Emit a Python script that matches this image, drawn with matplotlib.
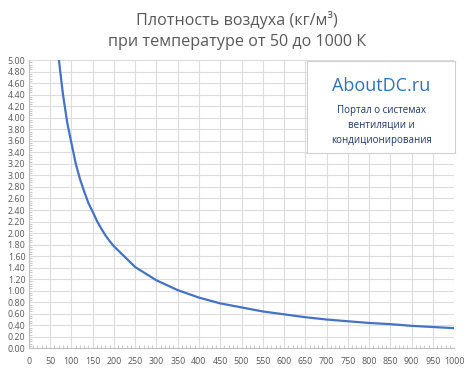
import matplotlib
matplotlib.use('Agg')
import matplotlib.pyplot as plt
from matplotlib.ticker import MultipleLocator, FormatStrFormatter

plt.rcParams['font.family'] = ['Open Sans', 'DejaVu Sans']

# Температура, К и плотность воздуха, кг/м3
temps = [50, 60, 70, 80, 90, 100, 110, 120, 130, 140, 150, 160, 170, 180, 190, 200,
         250, 300, 350, 400, 450, 500, 550, 600, 650, 700, 750, 800, 850, 900, 950, 1000]
density = [7.06, 5.88, 5.04, 4.41, 3.92, 3.56, 3.21, 2.94, 2.72, 2.52, 2.37, 2.21, 2.08,
           1.96, 1.86, 1.77, 1.41, 1.18, 1.01, 0.88, 0.78, 0.71, 0.64, 0.59, 0.54, 0.50,
           0.47, 0.44, 0.42, 0.39, 0.37, 0.35]

title = 'Плотность воздуха (кг/м³)\nпри температуре от 50 до 1000 К'
site = 'AboutDC.ru'
site_note = 'Портал о системах\nвентиляции и\nкондиционирования'

fig = plt.figure(figsize=(4.74, 3.69), dpi=100)
ax = fig.add_axes([0.061, 0.056, 0.897, 0.781])

ax.plot(temps, density, color='#4472C4', lw=1.6, clip_on=True)

ax.set_xlim(0, 1000)
ax.set_ylim(0, 5)
ax.xaxis.set_major_locator(MultipleLocator(50))
ax.xaxis.set_minor_locator(MultipleLocator(10))
ax.yaxis.set_major_locator(MultipleLocator(0.2))
ax.yaxis.set_minor_locator(MultipleLocator(0.04))
ax.yaxis.set_major_formatter(FormatStrFormatter('%.2f'))

ax.grid(True, which='major', color='#DCDCDC', lw=0.8)
ax.set_axisbelow(True)
for s in ['top', 'right']:
    ax.spines[s].set_visible(False)
for s in ['left', 'bottom']:
    ax.spines[s].set_color('#BFBFBF')
    ax.spines[s].set_linewidth(0.8)

ax.tick_params(which='major', length=0, labelsize=6.4, labelcolor='#595959', pad=2.5)
ax.tick_params(axis='x', which='major', pad=6)
ax.tick_params(which='minor', length=2, direction='in', color='#BFBFBF', width=0.6)

fig.text(0.5, 0.97, title, ha='center', va='top', fontsize=11.6, color='#595959',
         linespacing=1.4)

# Плашка с надписью
box = fig.add_axes([0.648, 0.585, 0.312, 0.25])
box.set_xticks([])
box.set_yticks([])
box.set_facecolor('white')
for s in box.spines.values():
    s.set_color('#D0D0D0')
    s.set_linewidth(0.8)
box.text(0.5, 0.73, site, ha='center', va='center', fontsize=13, color='#2E75B6')
box.text(0.5, 0.3, site_note, ha='center', va='center', fontsize=7, color='#1F3864',
         linespacing=1.5)

fig.savefig('out.png', dpi=100, facecolor='white')
